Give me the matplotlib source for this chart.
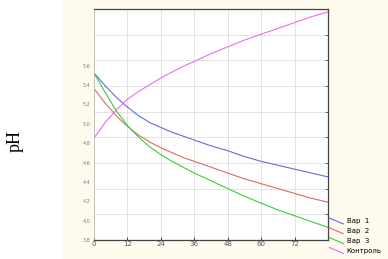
import numpy as np
import matplotlib.pyplot as plt
from matplotlib.lines import Line2D
from matplotlib.legend_handler import HandlerLine2D
from matplotlib.patches import Rectangle

# hours
hours = [0, 4, 8, 12, 16, 20, 24, 28, 32, 36, 42, 48, 54, 60, 66, 72, 78, 84]
var1 = [5.52, 5.39, 5.27, 5.17, 5.08, 5.01, 4.96, 4.91, 4.87, 4.83, 4.77, 4.72, 4.66, 4.61, 4.57, 4.53, 4.49, 4.45]
var2 = [5.36, 5.21, 5.08, 4.97, 4.88, 4.81, 4.75, 4.70, 4.65, 4.61, 4.55, 4.49, 4.43, 4.38, 4.33, 4.28, 4.23, 4.19]
var3 = [5.52, 5.32, 5.13, 4.98, 4.86, 4.76, 4.68, 4.61, 4.55, 4.49, 4.41, 4.33, 4.25, 4.18, 4.11, 4.05, 3.99, 3.93]
control = [4.85, 5.01, 5.14, 5.25, 5.33, 5.40, 5.47, 5.53, 5.59, 5.64, 5.72, 5.79, 5.86, 5.92, 5.98, 6.04, 6.10, 6.15]

series_names = ["Вар  1", "Вар  2", "Вар  3", "Контроль"]
series_colors = ["#6a6ae0", "#e06868", "#3ccc3c", "#ee6cee"]

x_ticks = [0, 12, 24, 36, 48, 60, 72]
y_ticks = [3.8, 4.0, 4.2, 4.4, 4.6, 4.8, 5.0, 5.2, 5.4, 5.6]
y_lo, y_hi = 3.8, 6.18


class DiagonalHandler(HandlerLine2D):
    # slanted legend handles like the original
    def create_artists(self, legend, orig_handle, xdescent, ydescent,
                       width, height, fontsize, trans):
        line = Line2D([-xdescent, -xdescent + width],
                      [-ydescent + height * 1.1, -ydescent - height * 0.1],
                      color=orig_handle.get_color(), lw=orig_handle.get_linewidth())
        line.set_transform(trans)
        return [line]


fig = plt.figure(figsize=(3.88, 2.59), dpi=100)
fig.patch.set_facecolor("white")
fig.patches.append(Rectangle((62 / 388, 0), 1, 1, transform=fig.transFigure,
                             facecolor="#fffaee", edgecolor="none", zorder=-10))

ax = fig.add_axes([94 / 388, 1 - 240 / 259, (328 - 94) / 388, (240 - 9) / 259])
ax.set_facecolor("white")

handles = []
for vals, name, col in zip([var1, var2, var3, control], series_names, series_colors):
    h, = ax.plot(hours, vals, color=col, lw=0.8, label=name)
    handles.append(h)

ax.set_xlim(0, 84)
ax.set_ylim(y_lo, y_hi)
ax.set_xticks(x_ticks)
ax.set_xticklabels([str(t) for t in x_ticks], fontsize=5, color="#555555")
ax.set_yticks(y_ticks)
ax.set_yticklabels([f"{t:.1f}".replace(".", ",") for t in y_ticks], fontsize=3.5, color="#777777")
ax.set_yticks(np.linspace(y_lo, y_hi, 10), minor=True)
ax.grid(False)
ax.grid(True, axis="y", which="minor", color="#dedede", lw=0.6)
ax.grid(True, axis="x", which="major", color="#dedede", lw=0.6)
ax.tick_params(axis="y", which="major", length=0, pad=2.5)
ax.tick_params(axis="y", which="minor", length=2, direction="in", right=True, left=False, color="#555555")
ax.tick_params(axis="x", length=2, direction="in", pad=1, color="#555555")
ax.set_axisbelow(True)

for side in ["top", "right", "bottom"]:
    ax.spines[side].set_color("#444444")
    ax.spines[side].set_linewidth(0.9)
ax.spines["left"].set_color("#bbbbbb")
ax.spines["left"].set_linewidth(0.6)

fig.text(15 / 388, 1 - 141 / 259, "pH", rotation=90, ha="center", va="center",
         fontsize=13, family="Liberation Serif")

fig.legend(handles=handles, labels=series_names, loc="upper left",
           bbox_to_anchor=(328 / 388, 1 - 217 / 259), frameon=False,
           fontsize=5, handlelength=2.0, handletextpad=0.5, labelspacing=0.55,
           borderaxespad=0, borderpad=0.2,
           handler_map={Line2D: DiagonalHandler()})

fig.savefig("out.png", dpi=100, facecolor=fig.get_facecolor())
